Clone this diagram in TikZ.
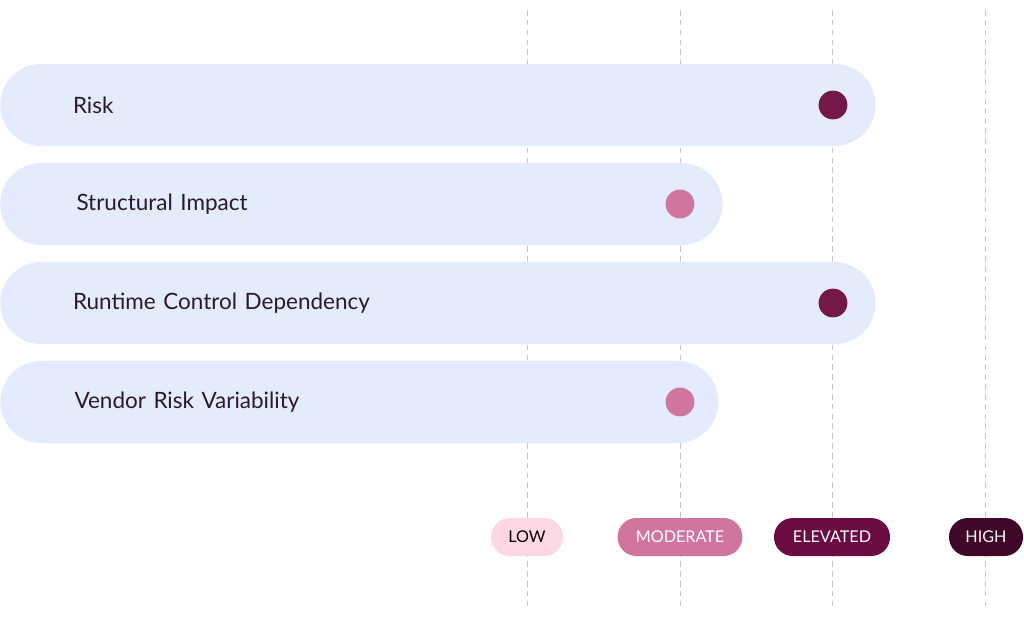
\documentclass[tikz,border=0pt]{standalone}
\usepackage{fontspec}
\setmainfont{Lato}
\usetikzlibrary{positioning}
\definecolor{barblue}{HTML}{E4EBFC}
\definecolor{inktext}{HTML}{2A1A2E}
\definecolor{lowpink}{HTML}{FFD6E6}
\definecolor{modpink}{HTML}{D0769E}
\definecolor{elevplum}{HTML}{6A0C41}
\definecolor{highplum}{HTML}{3E0826}
\tikzset{
  bar/.style={fill=barblue, rounded corners=1.02cm, minimum height=2.05cm, anchor=west,
    text=inktext, font=\fontsize{16}{18}\selectfont, inner sep=0pt, align=left},
  dot/.style={circle, minimum size=0.72cm, inner sep=0pt},
  pill/.style={rounded corners=0.47cm, minimum height=0.95cm, inner sep=0pt,
    font=\fontsize{11.5}{13}\selectfont},
  guide/.style={gray!45, dash pattern=on 4pt off 3pt, line width=0.6pt}
}
\begin{document}
\begin{tikzpicture}[x=0.025cm, y=-0.025cm]
  \useasboundingbox (0,0) rectangle (1024,617);

  % guide lines
  \foreach \gx/\gn in {527/low, 680/mod, 832/elev, 985/high} {
    \coordinate (top-\gn) at (\gx,10);
    \coordinate (bot-\gn) at (\gx,608);
    \draw[guide] (top-\gn) -- (bot-\gn);
  }

  % bars
  \node[bar, minimum width=21.875cm, text width=20cm] (risk) at (0,105) {\hspace*{0.88cm}Risk};
  \node[bar, minimum width=18.05cm, text width=16cm] (struct) at (0,204) {\hspace*{0.88cm}Structural Impact};
  \node[bar, minimum width=21.875cm, text width=20cm] (runtime) at (0,303) {\hspace*{0.88cm}Runtime Control Dependency};
  \node[bar, minimum width=17.95cm, text width=16cm] (vendor) at (0,402) {\hspace*{0.88cm}Vendor Risk Variability};

  % level dots
  \node[dot, fill=elevplum!90!modpink] (risk-dot) at (833,105) {};
  \node[dot, fill=modpink] (struct-dot) at (680,204) {};
  \node[dot, fill=elevplum!90!modpink] (runtime-dot) at (833,303) {};
  \node[dot, fill=modpink] (vendor-dot) at (680,402) {};

  % legend
  \node[pill, fill=lowpink, text=black, minimum width=1.8cm] (low) at (527,537) {LOW};
  \node[pill, fill=modpink, text=white, minimum width=3.12cm] (moderate) at (680,537) {MODERATE};
  \node[pill, fill=elevplum, text=white, minimum width=2.9cm] (elevated) at (832,537) {ELEVATED};
  \node[pill, fill=highplum, text=white, minimum width=1.85cm] (high) at (986,537) {HIGH};
\end{tikzpicture}
\end{document}
